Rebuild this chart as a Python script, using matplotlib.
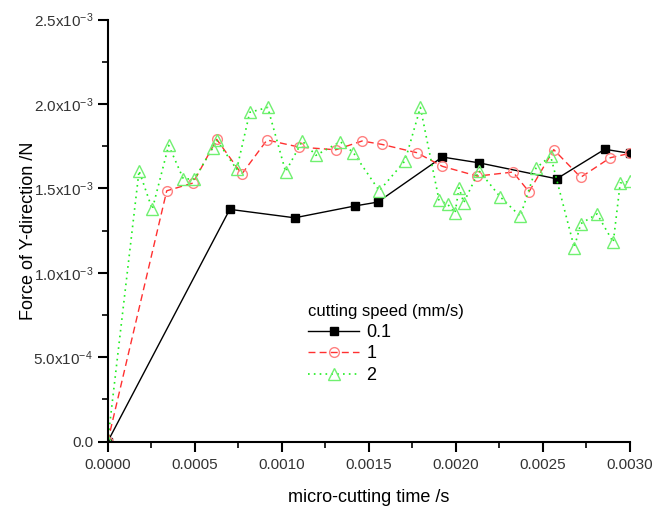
import matplotlib
matplotlib.use("Agg")
import matplotlib.pyplot as plt
from matplotlib.ticker import MultipleLocator, FixedLocator

plt.rcParams['font.family'] = ['Liberation Sans', 'DejaVu Sans']
plt.rcParams['mathtext.fontset'] = 'custom'
plt.rcParams['mathtext.rm'] = 'Liberation Sans'
plt.rcParams['mathtext.it'] = 'Liberation Sans'

# time in 1e-3 s, force in 1e-3 N
t_01 = [0, 0.701, 1.074, 1.419, 1.551, 1.922, 2.131, 2.579, 2.855, 3.0]
f_01 = [0, 1.376, 1.326, 1.396, 1.419, 1.686, 1.652, 1.557, 1.732, 1.708]

t_1 = [0, 0.339, 0.490, 0.626, 0.770, 0.915, 1.099, 1.310, 1.461, 1.574, 1.775,
       1.922, 2.123, 2.328, 2.420, 2.562, 2.717, 2.887, 3.0]
f_1 = [0, 1.486, 1.532, 1.791, 1.585, 1.787, 1.745, 1.729, 1.781, 1.761, 1.712,
       1.631, 1.573, 1.597, 1.480, 1.730, 1.566, 1.682, 1.708]

t_2 = [0, 0.180, 0.256, 0.350, 0.434, 0.497, 0.603, 0.626, 0.741, 0.816, 0.919,
       1.022, 1.118, 1.196, 1.336, 1.411, 1.560, 1.708, 1.796, 1.903, 1.953,
       1.995, 2.018, 2.045, 2.133, 2.253, 2.370, 2.460, 2.544, 2.680, 2.717,
       2.811, 2.904, 2.944, 3.0]
f_2 = [0, 1.605, 1.376, 1.755, 1.558, 1.554, 1.739, 1.787, 1.613, 1.951, 1.980,
       1.599, 1.781, 1.696, 1.777, 1.712, 1.486, 1.664, 1.980, 1.431, 1.406,
       1.354, 1.504, 1.416, 1.605, 1.452, 1.335, 1.620, 1.692, 1.149, 1.291,
       1.349, 1.181, 1.532, 1.542]

xtick_vals = [0, 0.0005, 0.001, 0.0015, 0.002, 0.0025, 0.003]
xtick_labels = ['0.0000', '0.0005', '0.0010', '0.0015', '0.0020', '0.0025', '0.0030']
ytick_vals = [0, 0.5e-3, 1.0e-3, 1.5e-3, 2.0e-3, 2.5e-3]
ytick_labels = ['0.0', r'5.0x10$^{-4}$', r'1.0x10$^{-3}$', r'1.5x10$^{-3}$',
                r'2.0x10$^{-3}$', r'2.5x10$^{-3}$']

fig = plt.figure(figsize=(6.67, 5.09), dpi=100)
ax = fig.add_axes([0.1615, 0.1324, 0.783, 0.829])

s = 1e-3
ax.plot([v * s for v in t_01], [v * s for v in f_01], color='black', lw=1.0,
        ls='-', marker='s', ms=6, mfc='black', mec='black', label='0.1')
ax.plot([v * s for v in t_1], [v * s for v in f_1], color='#ff3030', lw=1.0,
        ls=(0, (5, 3)), marker='o', ms=7, mfc='none', mec='#ff8080', mew=1.0, label='1')
ax.plot([v * s for v in t_2], [v * s for v in f_2], color='#20ee20', lw=1.2,
        ls=(0, (1, 2.5)), marker='^', ms=8, mfc='none', mec='#70f070', mew=1.0, label='2')

ax.set_xlim(0, 0.003)
ax.set_ylim(0, 2.5e-3)
ax.set_xticks(xtick_vals)
ax.set_xticklabels(xtick_labels)
ax.xaxis.set_minor_locator(MultipleLocator(0.00025))
ax.yaxis.set_major_locator(FixedLocator(ytick_vals))
ax.set_yticklabels(ytick_labels)
ax.yaxis.set_minor_locator(MultipleLocator(0.25e-3))

for sp in ['top', 'right']:
    ax.spines[sp].set_visible(False)
for sp in ['left', 'bottom']:
    ax.spines[sp].set_linewidth(1.5)
ax.tick_params(which='major', direction='out', length=7, width=1.5, labelsize=11, colors='black')
ax.tick_params(which='minor', direction='out', length=4, width=1.2)
ax.tick_params(axis='y', labelcolor='#333333')
ax.tick_params(axis='x', labelcolor='#333333', pad=5)

ax.set_xlabel('micro-cutting time /s', fontsize=13, labelpad=12)
ax.set_ylabel('Force of Y-direction /N', fontsize=13)
ax.yaxis.set_label_coords(-0.136, 0.5)

leg = ax.legend(title='cutting speed (mm/s)', loc='upper left', bbox_to_anchor=(0.36, 0.355),
                frameon=False, fontsize=13, title_fontsize=12, numpoints=1,
                handlelength=2.8, handletextpad=0.4, labelspacing=0.25, borderpad=0.2)
leg._legend_box.align = 'left'

fig.savefig('out.png', dpi=100)
